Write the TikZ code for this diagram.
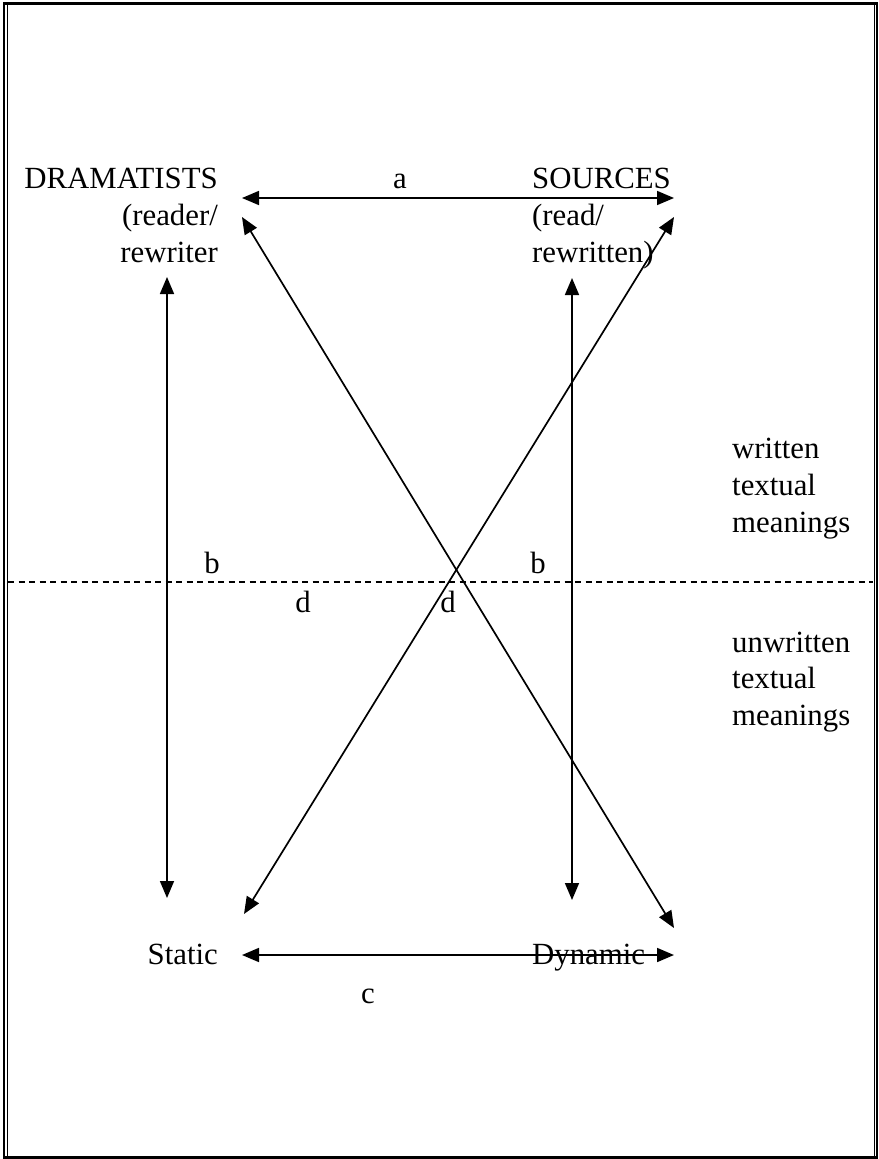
\documentclass[tikz,border=0pt]{standalone}
\usepackage{fontspec}
\setmainfont{Liberation Serif}
\usetikzlibrary{arrows.meta}
\begin{document}
\begin{tikzpicture}[x=1pt,y=-1pt,
  lbl/.style={inner sep=0pt, font=\fontsize{30.8}{37}\selectfont},
  dbl/.style={line width=1.7pt, {Triangle[length=17pt,width=14pt]}-{Triangle[length=17pt,width=14pt]}},
  divider/.style={line width=1.2pt, dash pattern=on 6pt off 4.5pt},
  frameout/.style={line width=2.4pt},
  framein/.style={line width=1.2pt}
]
\useasboundingbox (0,0) rectangle (878,1159);
% frame
\draw[frameout] (4.2,3.5) rectangle (877,1157.6);
\draw[framein] (7.4,4.7) -- (7.4,1156.4);
\draw[framein] (874.4,4.7) -- (874.4,1156.4);

% texts
\node[lbl, anchor=base east] (dram) at (218,188) {DRAMATISTS};
\node[lbl, anchor=base east] (reader) at (218,225) {(reader/};
\node[lbl, anchor=base east] (rewriter) at (218,262) {rewriter};
\node[lbl, anchor=base west] (sources) at (532,188) {SOURCES};
\node[lbl, anchor=base west] (read) at (532,225) {(read/};
\node[lbl, anchor=base west] (rewritten) at (532,262) {rewritten)};
\node[lbl, anchor=base east] (static) at (218,964) {Static};
\node[lbl, anchor=base west] (dynamic) at (532,964) {Dynamic};
\node[lbl, anchor=base] (la) at (400,188) {a};
\node[lbl, anchor=base] (lc) at (368,1003) {c};
\node[lbl, anchor=base] (lb1) at (212,573) {b};
\node[lbl, anchor=base] (lb2) at (538,573) {b};
\node[lbl, anchor=base] (ld1) at (303,612) {d};
\node[lbl, anchor=base] (ld2) at (448,612) {d};
\node[lbl, anchor=base west] (w1) at (732,458) {written};
\node[lbl, anchor=base west] (w2) at (732,495) {textual};
\node[lbl, anchor=base west] (w3) at (732,532) {meanings};
\node[lbl, anchor=base west] (u1) at (732,652) {unwritten};
\node[lbl, anchor=base west] (u2) at (732,688) {textual};
\node[lbl, anchor=base west] (u3) at (732,725) {meanings};

% arrow ends
\coordinate (aL) at (242,198);
\coordinate (aR) at (674,198);
\coordinate (cL) at (242,955);
\coordinate (cR) at (674,955);
\coordinate (vL1) at (167,277);
\coordinate (vL2) at (167,898);
\coordinate (vR1) at (572,278);
\coordinate (vR2) at (572,900);
\coordinate (dA1) at (242,217);
\coordinate (dA2) at (674,928);
\coordinate (dB1) at (674,217);
\coordinate (dB2) at (244,914);
\coordinate (hL) at (8,582);
\coordinate (hR) at (873,582);

% connectors
\draw[divider] (hL) -- (hR);
\draw[dbl] (aL) -- (aR);
\draw[dbl] (cL) -- (cR);
\draw[dbl] (vL1) -- (vL2);
\draw[dbl] (vR1) -- (vR2);
\draw[dbl] (dA1) -- (dA2);
\draw[dbl] (dB1) -- (dB2);
\end{tikzpicture}
\end{document}
